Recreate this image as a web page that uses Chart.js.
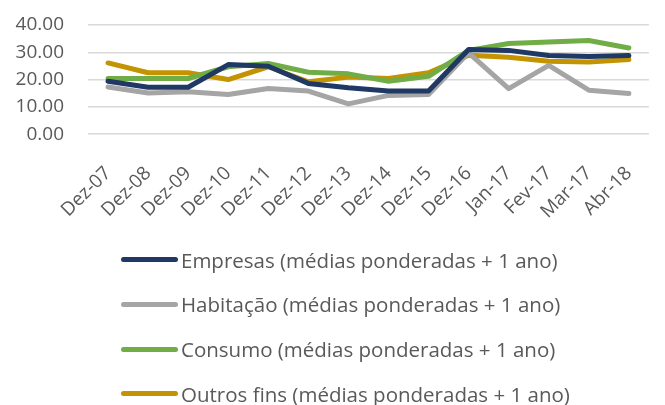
<!DOCTYPE html>
<html>
<head>
<meta charset="utf-8">
<script src="https://cdn.jsdelivr.net/npm/chart.js@4/dist/chart.umd.min.js"></script>
<style>
	html, body { margin: 0; padding: 0; background: #fff; }
	#wrap { position: relative; width: 665px; height: 405px; overflow: hidden; }
	#chartBox { position: absolute; left: 0; top: 0; width: 665px; height: 243px; }
	#legend { position: absolute; left: 121px; top: 237.5px; margin: 0; padding: 0; list-style: none;
		font-family: "Open Sans", sans-serif; font-size: 20.5px; color: #595959; }
	#legend li { height: 44.7px; line-height: 44.7px; display: flex; align-items: center; }
	#legend .swatch { display: inline-block; width: 57px; height: 5px; border-radius: 3px; margin-right: 3px; }
</style>
</head>
<body>
<div id="wrap">
	<div id="chartBox"><canvas id="chart"></canvas></div>
	<ul id="legend"></ul>
</div>
<script>
	'use strict';

	var categories = ['Dez-07', 'Dez-08', 'Dez-09', 'Dez-10', 'Dez-11', 'Dez-12', 'Dez-13',
		'Dez-14', 'Dez-15', 'Dez-16', 'Jan-17', 'Fev-17', 'Mar-17', 'Abr-18'];

	var empresas = [19.4, 17.2, 17.2, 25.5, 24.9, 18.6, 17.0, 15.8, 15.8, 31.0, 30.7, 28.8, 28.5, 28.8];
	var habitacao = [17.3, 15.1, 15.5, 14.5, 16.7, 15.8, 11.1, 14.2, 14.5, 29.8, 16.7, 25.2, 16.1, 14.9];
	var consumo = [20.4, 20.4, 20.4, 24.7, 25.9, 22.7, 22.1, 19.4, 21.2, 30.7, 33.2, 33.8, 34.3, 31.6];
	var outrosFins = [26.1, 22.5, 22.5, 20.0, 24.7, 19.2, 20.9, 20.4, 22.5, 28.9, 28.2, 26.7, 26.4, 27.4];

	var yTicks = [0, 10, 20, 30, 40];

	var seriesNames = [
		'Empresas (médias ponderadas + 1 ano)',
		'Habitação (médias ponderadas + 1 ano)',
		'Consumo (médias ponderadas + 1 ano)',
		'Outros fins (médias ponderadas + 1 ano)'
	];
	var seriesColors = ['#203864', '#a5a5a5', '#70ad47', '#c49300'];
	var seriesValues = [empresas, habitacao, consumo, outrosFins];

	function makeDataset(i) {
		return {
			label: seriesNames[i],
			data: seriesValues[i],
			borderColor: seriesColors[i],
			backgroundColor: seriesColors[i],
			borderWidth: 5,
			pointRadius: 0,
			tension: 0,
			borderJoinStyle: 'round',
			borderCapStyle: 'round',
			fill: false
		};
	}

	// draw legend as html, one entry per row, from the chart's own legend items
	var htmlLegend = {
		id: 'htmlLegend',
		afterUpdate: function (chart) {
			var ul = document.getElementById('legend');
			while (ul.firstChild) {
				ul.firstChild.remove();
			}
			var items = chart.options.plugins.legend.labels.generateLabels(chart);
			items.forEach(function (item) {
				var li = document.createElement('li');
				var sw = document.createElement('span');
				sw.className = 'swatch';
				sw.style.background = item.strokeStyle;
				var txt = document.createElement('span');
				txt.textContent = item.text;
				li.appendChild(sw);
				li.appendChild(txt);
				ul.appendChild(li);
			});
		}
	};

	new Chart(document.getElementById('chart'), {
		type: 'line',
		data: {
			labels: categories,
			datasets: [0, 1, 2, 3].map(makeDataset)
		},
		options: {
			responsive: true,
			maintainAspectRatio: false,
			animation: false,
			layout: { padding: { top: 0, right: 0, left: 8, bottom: 0 } },
			plugins: {
				legend: { display: false },
				tooltip: { enabled: false }
			},
			scales: {
				x: {
					offset: true,
					grid: { display: false },
					border: { display: false },
					ticks: {
						color: '#595959',
						font: { family: '"Open Sans", sans-serif', size: 19 },
						minRotation: 45,
						maxRotation: 45,
						autoSkip: false,
						padding: 20
					}
				},
				y: {
					min: 0,
					max: 40,
					afterBuildTicks: function (axis) {
						axis.ticks = yTicks.map(function (v) { return { value: v }; });
					},
					// tick padding is counted twice in width and also pads the top
					afterFit: function (axis) {
						axis.width = 80;
						axis.paddingTop = 25;
					},
					grid: { color: '#d9d9d9', lineWidth: 1.5, drawTicks: false },
					border: { display: false },
					ticks: {
						color: '#595959',
						font: { family: '"Open Sans", sans-serif', size: 19 },
						padding: 24,
						autoSkip: false,
						callback: function (v) { return v.toFixed(2); }
					}
				}
			}
		},
		plugins: [htmlLegend]
	});
</script>
</body>
</html>
